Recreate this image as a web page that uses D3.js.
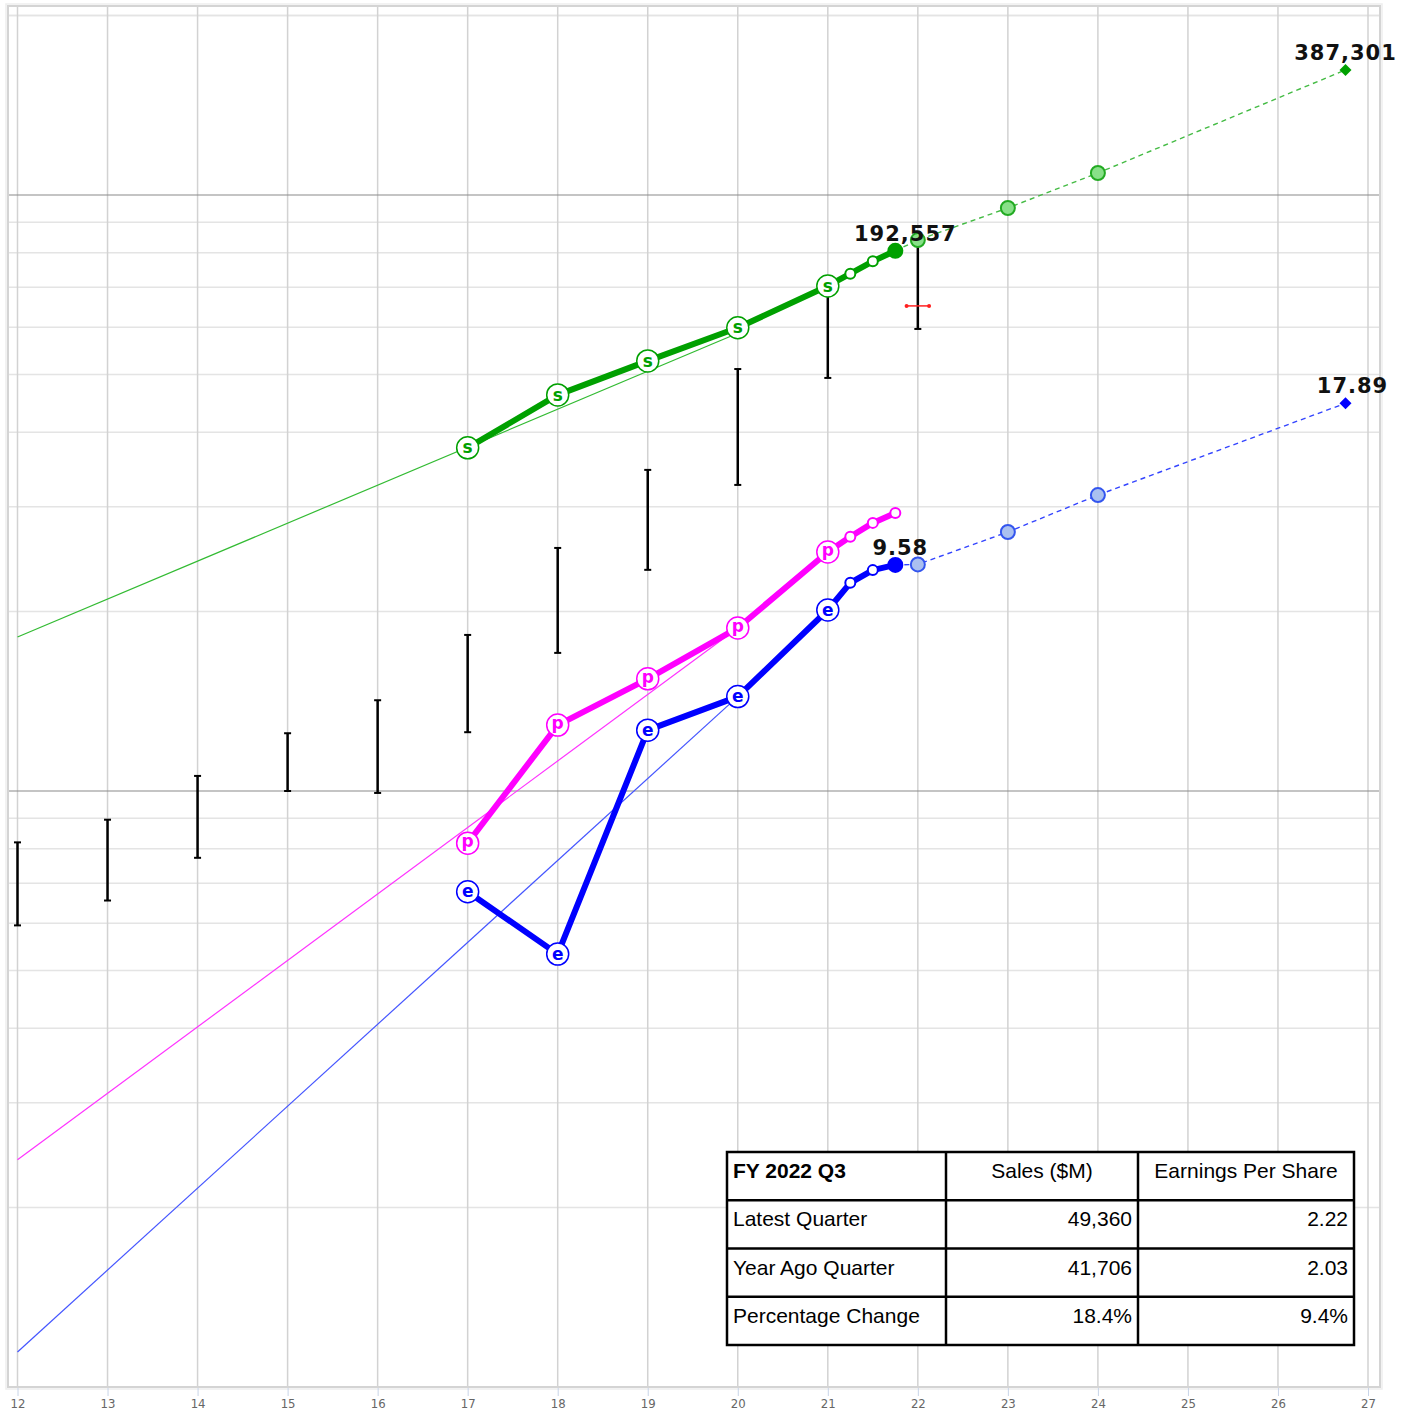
<!DOCTYPE html>
<html lang="en">
    <head>
        <meta charset="utf-8">
        <title>D3: Sales, EPS and Price</title>
        <script type="text/javascript" src="https://cdn.jsdelivr.net/npm/d3@7"></script>
        <style type="text/css">
            body { margin: 0; background: #fff; }
            text { font-family: "DejaVu Sans", sans-serif; }
        </style>
    </head>
    <body>
        <script type="text/javascript">
            //Width and height
            var w = 1410;
            var h = 1412;

            // fiscal years on the axis
            var years = [12, 13, 14, 15, 16, 17, 18, 19, 20, 21, 22, 23, 24, 25, 26, 27];

            // sales ($M)
            var salesYears = [17, 18, 19, 20, 21];
            var salesVals = [89950, 110360, 125843, 143015, 168088];
            var salesTtmX = [21, 21.25, 21.5, 21.75];
            var salesTtm = [168088, 176251, 184903, 192557];
            var salesEstX = [21.75, 22, 23, 24, 26.75];
            var salesEst = [192557, 200700, 227200, 260100, 387301];
            var salesTrend = [[12, 43300], [20, 140000]];

            // earnings per share
            var epsYears = [17, 18, 19, 20, 21];
            var epsVals = [2.71, 2.13, 5.06, 5.76, 8.05];
            var epsTtmX = [21, 21.25, 21.5, 21.75];
            var epsTtm = [8.05, 8.94, 9.39, 9.58];
            var epsEstX = [21.75, 22, 23, 24, 26.75];
            var epsEst = [9.58, 9.60, 10.88, 12.55, 17.89];
            var epsTrend = [[12, 0.458], [20, 5.76]];

            // cash flow per share
            var cfYears = [17, 18, 19, 20, 21];
            var cfVals = [3.27, 5.16, 6.17, 7.51, 10.07];
            var cfTtmX = [21, 21.25, 21.5, 21.75];
            var cfTtm = [10.07, 10.68, 11.27, 11.71];
            var cfTrend = [[12, 0.962], [20, 7.51]];

            // yearly price range
            var priceYears = [12, 13, 14, 15, 16, 17, 18, 19, 20, 21, 22];
            var priceHigh = [32.8, 35.8, 42.4, 50.0, 56.8, 73.1, 102.3, 138.3, 204.2, 275.0, 336.2];
            var priceLow = [23.8, 26.2, 30.9, 40.0, 39.7, 50.2, 68.2, 94.0, 130.5, 197.3, 238.4];
            var priceNow = 260.6;

            // quarter table
            var tableHead = ["FY 2022 Q3", "Sales ($M)", "Earnings Per Share"];
            var tableRows = [
                ["Latest Quarter", "49,360", "2.22"],
                ["Year Ago Quarter", "41,706", "2.03"],
                ["Percentage Change", "18.4%", "9.4%"]
            ];

            // each series is drawn on the same log grid with its own factor
            var salesK = 4.186e-5;
            var perShareK = 0.25;
            var priceK = 0.025;

            var x = d3.scaleLinear().domain([12, 27]).range([17.5, 1368]);
            var y = d3.scaleLog().domain([0.1, 10]).range([1387, 195]);

            var pLeft = 8, pRight = 1380, pTop = 6, pBottom = 1387;

            //Create SVG element
            var svg = d3.select("body")
                        .append("svg")
                        .attr("width", w)
                        .attr("height", h);

            // horizontal grid
            var hGrid = [];
            [0.1, 1, 10].forEach(function(dec) {
                for (var m = 1; m <= 9; m++) {
                    var v = dec * m;
                    if (y(v) >= pTop && y(v) <= pBottom) hGrid.push(v);
                }
            });
            hGrid.push(20);
            function isMajor(d) {
                return Math.abs(d - 1) < 1e-9 || Math.abs(d - 10) < 1e-9;
            }
            svg.selectAll("line.hgrid")
                .data(hGrid.filter(function(d) { return !isMajor(d); }))
                .enter()
                .append("line")
                .attr("x1", pLeft).attr("x2", pRight)
                .attr("y1", function(d) { return y(d); })
                .attr("y2", function(d) { return y(d); })
                .attr("stroke", "#e4e4e4")
                .attr("stroke-width", 1.5);

            // vertical grid
            svg.selectAll("line.vgrid")
                .data(years)
                .enter()
                .append("line")
                .attr("x1", function(d) { return x(d); })
                .attr("x2", function(d) { return x(d); })
                .attr("y1", pTop).attr("y2", pBottom)
                .attr("stroke", "#d2d2d2")
                .attr("stroke-width", 1.5);

            // decade lines on top of the grid
            svg.selectAll("line.major")
                .data(hGrid.filter(isMajor))
                .enter()
                .append("line")
                .attr("x1", pLeft).attr("x2", pRight)
                .attr("y1", function(d) { return y(d); })
                .attr("y2", function(d) { return y(d); })
                .attr("stroke", "#8a8a8a")
                .attr("stroke-width", 1.2);

            // plot frame
            svg.append("rect")
                .attr("x", pLeft).attr("y", pTop)
                .attr("width", pRight - pLeft).attr("height", pBottom - pTop)
                .attr("fill", "none")
                .attr("stroke", "#d4d4d4")
                .attr("stroke-width", 2);
            svg.append("rect")
                .attr("x", pLeft - 2).attr("y", pTop - 2)
                .attr("width", pRight - pLeft + 4).attr("height", pBottom - pTop + 4)
                .attr("fill", "none")
                .attr("stroke", "#eeeeee")
                .attr("stroke-width", 1.5);

            // x axis
            var xAxis = d3.axisBottom(x).tickValues(years).tickSize(8).tickPadding(3);
            var ax = svg.append("g")
                .attr("transform", "translate(0," + (pBottom + 1) + ")")
                .call(xAxis);
            ax.select(".domain").remove();
            ax.selectAll(".tick line").attr("stroke", "#c8d4e8");
            ax.selectAll(".tick text")
                .attr("fill", "#666")
                .style("font-family", "'DejaVu Sans Condensed', 'DejaVu Sans', sans-serif")
                .style("font-size", "13px");

            var line = d3.line()
                .x(function(d) { return x(d[0]); })
                .y(function(d) { return y(d[1]); });

            function zip(xs, vs, k) {
                return xs.map(function(xv, i) { return [xv, vs[i] * k]; });
            }

            // price bars
            var bars = svg.append("g");
            priceYears.forEach(function(yr, i) {
                var yt = y(priceHigh[i] * priceK), yb = y(priceLow[i] * priceK);
                bars.append("line")
                    .attr("x1", x(yr)).attr("x2", x(yr))
                    .attr("y1", yt).attr("y2", yb)
                    .attr("stroke", "#000").attr("stroke-width", 2.5);
                [yt, yb].forEach(function(yy) {
                    bars.append("line")
                        .attr("x1", x(yr) - 3.5).attr("x2", x(yr) + 3.5)
                        .attr("y1", yy).attr("y2", yy)
                        .attr("stroke", "#000").attr("stroke-width", 2);
                });
            });

            // current price marker
            var pn = y(priceNow * priceK);
            svg.append("line")
                .attr("x1", x(21.875)).attr("x2", x(22.125))
                .attr("y1", pn).attr("y2", pn)
                .attr("stroke", "#ff2020").attr("stroke-width", 1.5);
            svg.selectAll("circle.pnow")
                .data([21.875, 22.125])
                .enter()
                .append("circle")
                .attr("cx", function(d) { return x(d); })
                .attr("cy", pn)
                .attr("r", 2)
                .attr("fill", "#ff2020");

            function drawSeries(opt) {
                var g = svg.append("g");
                // trend line
                g.append("path")
                    .datum(opt.trend.map(function(d) { return [d[0], d[1] * opt.k]; }))
                    .attr("d", line)
                    .attr("fill", "none")
                    .attr("stroke", opt.thin)
                    .attr("stroke-width", 1.2);
                // dashed estimates
                if (opt.estX) {
                    g.append("path")
                        .datum(zip(opt.estX, opt.est, opt.k))
                        .attr("d", line)
                        .attr("fill", "none")
                        .attr("stroke", opt.dash)
                        .attr("stroke-width", 1.4)
                        .attr("stroke-dasharray", "5,4");
                }
                // thick history line
                var hist = zip(opt.years, opt.vals, opt.k).concat(zip(opt.ttmX, opt.ttm, opt.k).slice(1));
                g.append("path")
                    .datum(hist)
                    .attr("d", line)
                    .attr("fill", "none")
                    .attr("stroke", opt.color)
                    .attr("stroke-width", 6)
                    .attr("stroke-linejoin", "round");
                // quarterly points
                var q = zip(opt.ttmX, opt.ttm, opt.k).slice(1);
                g.selectAll("circle.q")
                    .data(q)
                    .enter()
                    .append("circle")
                    .attr("cx", function(d) { return x(d[0]); })
                    .attr("cy", function(d) { return y(d[1]); })
                    .attr("r", function(d, i) { return (opt.filledLast && i === q.length - 1) ? 7 : 5; })
                    .attr("fill", function(d, i) { return (opt.filledLast && i === q.length - 1) ? opt.color : "#fff"; })
                    .attr("stroke", opt.color)
                    .attr("stroke-width", 2);
                // estimate points
                if (opt.estX) {
                    var e = zip(opt.estX, opt.est, opt.k);
                    g.selectAll("circle.est")
                        .data(e.slice(1, e.length - 1))
                        .enter()
                        .append("circle")
                        .attr("cx", function(d) { return x(d[0]); })
                        .attr("cy", function(d) { return y(d[1]); })
                        .attr("r", 7)
                        .attr("fill", opt.light)
                        .attr("stroke", opt.estStroke)
                        .attr("stroke-width", 2);
                    var last = e[e.length - 1];
                    g.append("path")
                        .attr("d", d3.symbol().type(d3.symbolSquare).size(72)())
                        .attr("transform", "translate(" + x(last[0]) + "," + y(last[1]) + ") rotate(45)")
                        .attr("fill", opt.color);
                }
                // letter markers
                var pts = g.selectAll("g.pt")
                    .data(zip(opt.years, opt.vals, opt.k))
                    .enter()
                    .append("g")
                    .attr("transform", function(d) { return "translate(" + x(d[0]) + "," + y(d[1]) + ")"; });
                pts.append("circle")
                    .attr("r", 11)
                    .attr("fill", "#fff")
                    .attr("stroke", opt.color)
                    .attr("stroke-width", 1.5);
                pts.append("text")
                    .attr("text-anchor", "middle")
                    .attr("dy", opt.letterDy)
                    .attr("fill", opt.color)
                    .style("font-size", "17px")
                    .style("font-weight", "bold")
                    .text(opt.letter);
            }

            drawSeries({
                k: perShareK, years: cfYears, vals: cfVals, ttmX: cfTtmX, ttm: cfTtm,
                trend: cfTrend, color: "#ff00ff", thin: "#ff33ff", letter: "p",
                letterDy: "0.25em", filledLast: false
            });
            drawSeries({
                k: perShareK, years: epsYears, vals: epsVals, ttmX: epsTtmX, ttm: epsTtm,
                estX: epsEstX, est: epsEst, trend: epsTrend, color: "#0000ff", thin: "#4455ff",
                dash: "#3344ff", light: "#aac0f0", estStroke: "#3355ee", letter: "e",
                letterDy: "0.33em", filledLast: true
            });
            drawSeries({
                k: salesK, years: salesYears, vals: salesVals, ttmX: salesTtmX, ttm: salesTtm,
                estX: salesEstX, est: salesEst, trend: salesTrend, color: "#00a000", thin: "#33bb33",
                dash: "#44bb44", light: "#88e088", estStroke: "#22aa22", letter: "s",
                letterDy: "0.33em", filledLast: true
            });

            // value labels
            var labels = [
                { x: 21.75, v: salesTtm[3] * salesK, t: "192,557", dx: 10, dy: -10 },
                { x: 21.75, v: epsTtm[3] * perShareK, t: "9.58", dx: 5, dy: -10 },
                { x: 26.75, v: salesEst[4] * salesK, t: "387,301", dx: 0, dy: -10 },
                { x: 26.75, v: epsEst[4] * perShareK, t: "17.89", dx: 7, dy: -10 }
            ];
            svg.selectAll("text.vlab")
                .data(labels)
                .enter()
                .append("text")
                .attr("x", function(d) { return x(d.x) + d.dx; })
                .attr("y", function(d) { return y(d.v) + d.dy; })
                .attr("text-anchor", "middle")
                .attr("fill", "#111")
                .style("font-size", "21px")
                .style("font-weight", "bold")
                .style("letter-spacing", "1px")
                .text(function(d) { return d.t; });

            // table
            var tx = [727, 946, 1138, 1354];
            var rowH = 48.25;
            var ty0 = 1152;
            var tbl = svg.append("g");
            tbl.append("rect")
                .attr("x", tx[0]).attr("y", ty0)
                .attr("width", tx[3] - tx[0]).attr("height", rowH * 4)
                .attr("fill", "#fff")
                .attr("stroke", "#000").attr("stroke-width", 2.5);
            for (var r = 1; r < 4; r++) {
                tbl.append("line")
                    .attr("x1", tx[0]).attr("x2", tx[3])
                    .attr("y1", ty0 + r * rowH).attr("y2", ty0 + r * rowH)
                    .attr("stroke", "#000").attr("stroke-width", 2.5);
            }
            [1, 2].forEach(function(c) {
                tbl.append("line")
                    .attr("x1", tx[c]).attr("x2", tx[c])
                    .attr("y1", ty0).attr("y2", ty0 + rowH * 4)
                    .attr("stroke", "#000").attr("stroke-width", 2.5);
            });
            var allRows = [tableHead].concat(tableRows);
            allRows.forEach(function(row, ri) {
                row.forEach(function(cell, ci) {
                    var anchor, px;
                    if (ci === 0) { anchor = "start"; px = tx[0] + 6; }
                    else if (ri === 0) { anchor = "middle"; px = (tx[ci] + tx[ci + 1]) / 2; }
                    else { anchor = "end"; px = tx[ci + 1] - 6; }
                    tbl.append("text")
                        .attr("x", px)
                        .attr("y", ty0 + ri * rowH + 26)
                        .attr("text-anchor", anchor)
                        .attr("fill", "#000")
                        .style("font-family", "'Liberation Sans', Arial, sans-serif")
                        .style("font-size", "21px")
                        .style("font-weight", (ri === 0 && ci === 0) ? "bold" : "normal")
                        .text(cell);
                });
            });
        </script>
    </body>
</html>
